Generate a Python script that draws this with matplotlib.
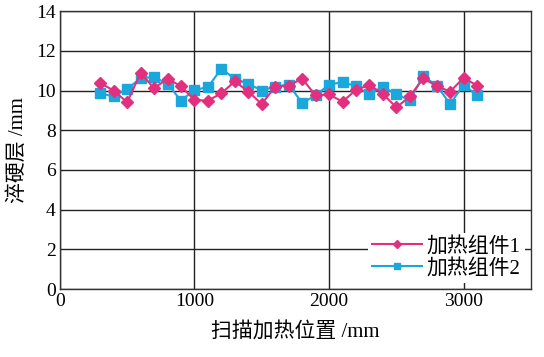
import matplotlib
matplotlib.use("Agg")
import matplotlib.pyplot as plt

# scan positions (mm) and hardened-layer depth (mm)
positions = [300, 400, 500, 600, 700, 800, 900, 1000, 1100, 1200, 1300, 1400, 1500, 1600, 1700,
             1800, 1900, 2000, 2100, 2200, 2300, 2400, 2500, 2600, 2700, 2800, 2900, 3000, 3100]
heater1 = [10.37, 10.0, 9.41, 10.88, 10.12, 10.59, 10.22, 9.52, 9.49, 9.86, 10.46, 9.95, 9.32, 10.2, 10.25,
           10.6, 9.75, 9.8, 9.44, 10.03, 10.28, 9.83, 9.15, 9.7, 10.62, 10.22, 9.95, 10.64, 10.25]
heater2 = [9.86, 9.7, 10.08, 10.62, 10.68, 10.34, 9.49, 10.03, 10.17, 11.1, 10.59, 10.34, 10.0, 10.2, 10.3,
           9.37, 9.75, 10.3, 10.42, 10.22, 9.8, 10.2, 9.8, 9.52, 10.73, 10.25, 9.32, 10.3, 9.75]
labels = ["加热组件1", "加热组件2"]
x_ticks = [0, 1000, 2000, 3000]
y_ticks = [0, 2, 4, 6, 8, 10, 12, 14]

plt.rcParams['font.family'] = ['Liberation Serif', 'Noto Sans CJK SC']

fig = plt.figure(figsize=(5.44, 3.57), dpi=100)
ax = fig.add_axes([0.110, 0.190, 0.866, 0.779])

ax.plot(positions, heater2, color="#1aa7dc", marker="s", markersize=6.5, linewidth=1.5,
        label=labels[1], zorder=3)
ax.plot(positions, heater1, color="#e2307f", marker="D", markersize=6.5, linewidth=1.5,
        label=labels[0], zorder=4)

ax.set_xlim(0, 3500)
ax.set_ylim(0, 14)
ax.set_xticks(x_ticks)
ax.set_yticks(y_ticks)
ax.grid(True, color="#222222", linewidth=1.0)
ax.set_axisbelow(True)
ax.tick_params(length=0, labelsize=14, pad=3)
for s in ax.spines.values():
    s.set_color("#333333")
    s.set_linewidth(1.0)

ax.set_xlabel("扫描加热位置 /mm", fontsize=15, labelpad=8)
ax.set_ylabel("淬硬层 /mm", fontsize=15, labelpad=6)

handles, labs = ax.get_legend_handles_labels()
leg = ax.legend(handles[::-1], labs[::-1], loc="lower right", fontsize=15, frameon=True,
                framealpha=1, edgecolor="none", fancybox=False, handlelength=2.4,
                markerscale=0.6, handletextpad=0.2, borderpad=0.2, labelspacing=0.1,
                borderaxespad=0.3)

fig.savefig("out.png", dpi=100)
